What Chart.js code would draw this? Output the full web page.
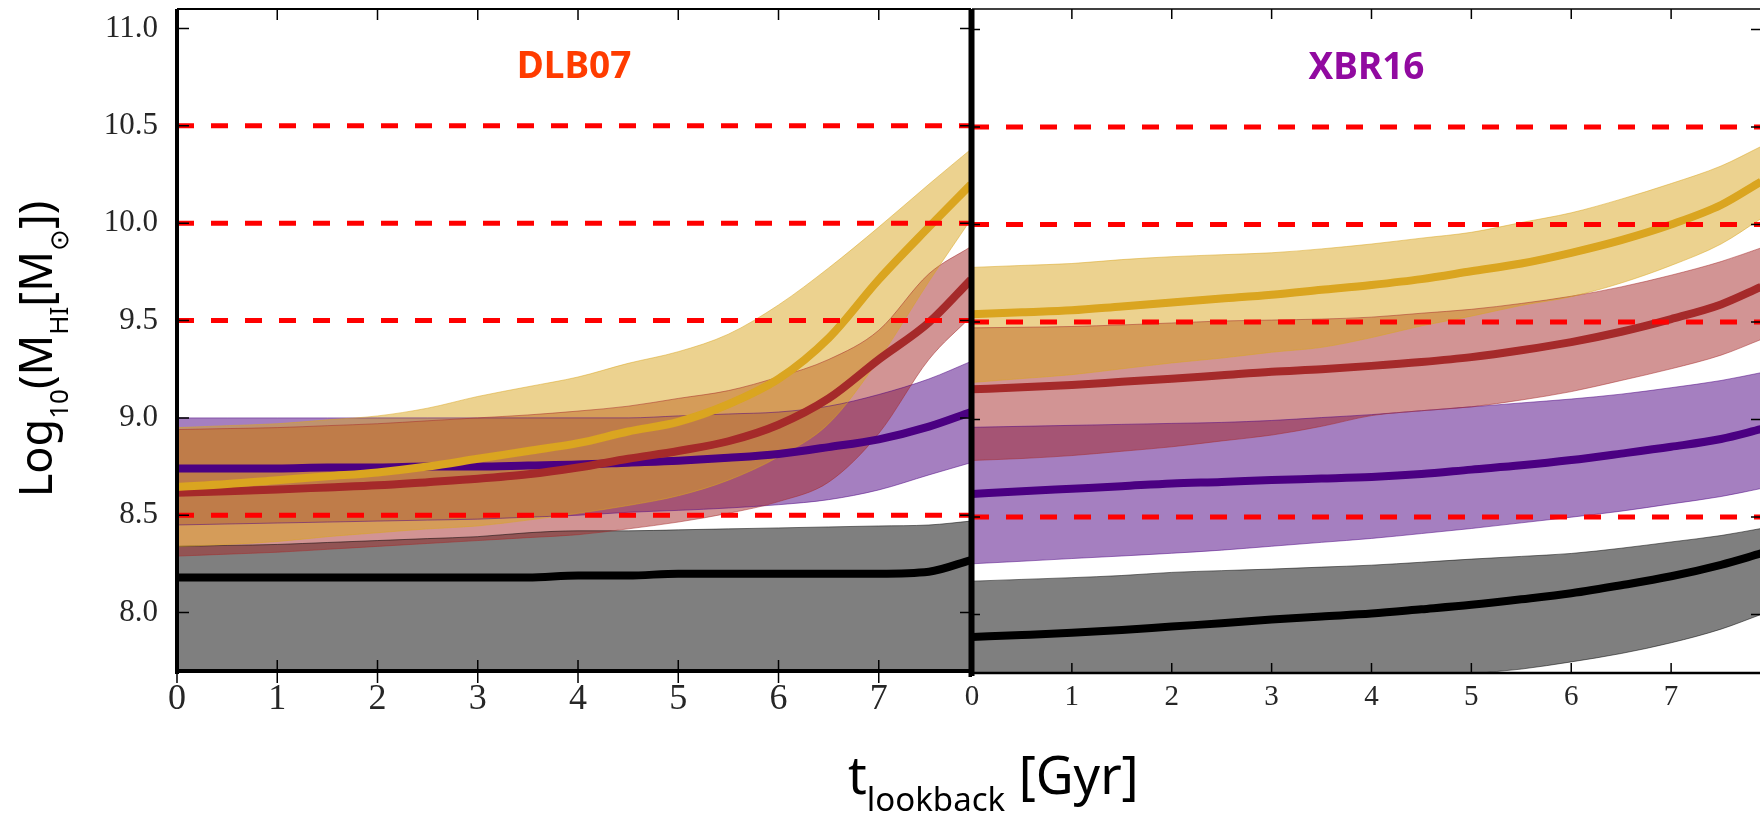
<!DOCTYPE html>
<html lang="en">
<head>
  <meta charset="UTF-8" />
  <title>HI mass vs lookback time</title>
  <script src="https://cdn.jsdelivr.net/npm/chart.js"></script>
  <style>
    html, body { margin: 0; padding: 0; background: #fff; overflow: hidden; }
    body { width: 1760px; height: 814px; position: relative; font-family: 'Noto Sans', sans-serif; }
    canvas { position: absolute; top: 0; }
    #left { left: 0; }
    #right { left: 960px; }
    .axis-title { position: absolute; color: #000; white-space: nowrap; }
    #ytitle { left: -175px; top: 319px; width: 420px; height: 60px; line-height: 60px; font-size: 45px; text-align: center; transform: rotate(-90deg); }
    #ytitle sub { font-size: 26px; vertical-align: -16px; line-height: 0; }
    #xtitle { left: 848px; top: 744px; height: 60px; line-height: 60px; font-size: 52px; }
    #xtitle sub { font-size: 33px; vertical-align: -17px; line-height: 0; }
  </style>
</head>
<body>

  <canvas id="left" width="972" height="814"></canvas>
  <canvas id="right" width="802" height="814"></canvas>
  <div id="ytitle" class="axis-title">Log<sub>10</sub>(M<sub>HI</sub>[M<sub>⊙</sub>])</div>
  <div id="xtitle" class="axis-title">t<sub>lookback</sub> [Gyr]</div>

  <script>
    // lookback time grid [Gyr]
    const tLeft  = [0, 0.5, 1, 1.5, 2, 2.5, 3, 3.5, 4, 4.5, 5, 5.5, 6, 6.5, 7, 7.5, 7.92];
    const tRight = [0, 0.5, 1, 1.5, 2, 2.5, 3, 3.5, 4, 4.5, 5, 5.5, 6, 6.5, 7, 7.5, 7.9];

    // reference HI mass levels (dashed)
    const thresholds = [10.5, 10.0, 9.5, 8.5];

    // DLB07: median and 16-84 percentile envelope per bin
    const dlbBlack    = [8.18, 8.18, 8.18, 8.18, 8.18, 8.18, 8.18, 8.18, 8.19, 8.19, 8.20, 8.20, 8.20, 8.20, 8.20, 8.21, 8.27];
    const dlbBlackHi  = [8.34, 8.345, 8.35, 8.36, 8.37, 8.38, 8.39, 8.41, 8.42, 8.42, 8.425, 8.43, 8.435, 8.44, 8.445, 8.45, 8.47];
    const dlbBlackLo  = [7.55, 7.55, 7.55, 7.55, 7.55, 7.55, 7.55, 7.55, 7.55, 7.55, 7.55, 7.55, 7.55, 7.55, 7.55, 7.55, 7.55];
    const dlbPurple   = [8.74, 8.74, 8.74, 8.745, 8.745, 8.75, 8.75, 8.755, 8.76, 8.77, 8.78, 8.795, 8.815, 8.85, 8.89, 8.955, 9.03];
    const dlbPurpleHi = [9.0, 9.0, 9.0, 9.0, 9.0, 9.0, 9.0, 9.0, 9.0, 9.0, 9.01, 9.02, 9.03, 9.06, 9.12, 9.20, 9.29];
    const dlbPurpleLo = [8.45, 8.455, 8.46, 8.465, 8.47, 8.475, 8.48, 8.49, 8.50, 8.515, 8.525, 8.537, 8.554, 8.58, 8.63, 8.707, 8.77];
    const dlbRed      = [8.615, 8.623, 8.632, 8.643, 8.654, 8.67, 8.687, 8.71, 8.745, 8.79, 8.83, 8.88, 8.965, 9.10, 9.30, 9.49, 9.71];
    const dlbRedHi    = [8.94, 8.945, 8.95, 8.96, 8.97, 8.985, 9.0, 9.015, 9.035, 9.06, 9.10, 9.14, 9.21, 9.30, 9.45, 9.74, 9.88];
    const dlbRedLo    = [8.29, 8.30, 8.31, 8.325, 8.34, 8.355, 8.37, 8.385, 8.40, 8.43, 8.465, 8.51, 8.57, 8.67, 8.92, 9.30, 9.52];
    const dlbGold     = [8.645, 8.66, 8.68, 8.70, 8.72, 8.75, 8.79, 8.83, 8.87, 8.93, 8.98, 9.07, 9.20, 9.41, 9.71, 9.98, 10.20];
    const dlbGoldHi   = [8.95, 8.96, 8.97, 8.99, 9.01, 9.05, 9.11, 9.16, 9.21, 9.28, 9.34, 9.43, 9.58, 9.77, 9.98, 10.20, 10.38];
    const dlbGoldLo   = [8.34, 8.35, 8.365, 8.39, 8.41, 8.43, 8.445, 8.475, 8.51, 8.55, 8.60, 8.68, 8.80, 8.97, 9.30, 9.70, 10.02];

    // XBR16
    const xbrBlack    = [7.885, 7.895, 7.906, 7.92, 7.938, 7.955, 7.974, 7.99, 8.005, 8.027, 8.05, 8.078, 8.109, 8.15, 8.196, 8.255, 8.313];
    const xbrBlackHi  = [8.171, 8.18, 8.189, 8.20, 8.216, 8.225, 8.233, 8.243, 8.253, 8.268, 8.284, 8.298, 8.313, 8.34, 8.372, 8.405, 8.441];
    const xbrBlackLo  = [7.45, 7.47, 7.49, 7.51, 7.53, 7.55, 7.57, 7.60, 7.63, 7.66, 7.695, 7.72, 7.757, 7.80, 7.855, 7.925, 8.0];
    const xbrPurple   = [8.618, 8.632, 8.645, 8.658, 8.672, 8.68, 8.69, 8.697, 8.705, 8.72, 8.743, 8.765, 8.792, 8.825, 8.86, 8.90, 8.95];
    const xbrPurpleHi = [8.96, 8.965, 8.97, 8.975, 8.98, 8.985, 8.995, 9.01, 9.025, 9.045, 9.065, 9.085, 9.105, 9.13, 9.163, 9.20, 9.24];
    const xbrPurpleLo = [8.26, 8.273, 8.287, 8.30, 8.314, 8.33, 8.35, 8.37, 8.39, 8.415, 8.441, 8.47, 8.499, 8.53, 8.567, 8.605, 8.646];
    const xbrRed      = [9.155, 9.165, 9.177, 9.193, 9.209, 9.227, 9.245, 9.258, 9.275, 9.295, 9.32, 9.355, 9.397, 9.45, 9.515, 9.59, 9.68];
    const xbrRedHi    = [9.47, 9.473, 9.477, 9.485, 9.495, 9.505, 9.51, 9.515, 9.525, 9.545, 9.565, 9.595, 9.632, 9.68, 9.74, 9.81, 9.88];
    const xbrRedLo    = [8.79, 8.80, 8.815, 8.837, 8.86, 8.89, 8.92, 8.965, 9.02, 9.045, 9.065, 9.10, 9.143, 9.20, 9.26, 9.33, 9.41];
    const xbrGold     = [9.54, 9.55, 9.56, 9.58, 9.60, 9.62, 9.64, 9.665, 9.69, 9.72, 9.76, 9.80, 9.855, 9.92, 10.00, 10.10, 10.22];
    const xbrGoldHi   = [9.78, 9.79, 9.80, 9.82, 9.835, 9.845, 9.855, 9.875, 9.90, 9.93, 9.96, 10.01, 10.06, 10.13, 10.21, 10.30, 10.40];
    const xbrGoldLo   = [9.19, 9.21, 9.23, 9.26, 9.29, 9.315, 9.345, 9.37, 9.42, 9.48, 9.53, 9.585, 9.63, 9.70, 9.79, 9.90, 10.03];

    const GOLD   = { line: '#daa520', band: 'rgba(218,165,32,0.5)' };
    const RED    = { line: '#a52a2a', band: 'rgba(165,42,42,0.5)' };
    const PURPLE = { line: '#4b0082', band: 'rgba(75,0,130,0.5)' };
    const BLACK  = { line: '#000000', band: 'rgba(0,0,0,0.5)' };

    // first entry ends up on top
    const dlbGroups = [
      { mid: dlbGold, hi: dlbGoldHi, lo: dlbGoldLo, ...GOLD },
      { mid: dlbRed, hi: dlbRedHi, lo: dlbRedLo, ...RED },
      { mid: dlbPurple, hi: dlbPurpleHi, lo: dlbPurpleLo, ...PURPLE },
      { mid: dlbBlack, hi: dlbBlackHi, lo: dlbBlackLo, ...BLACK }
    ];
    const xbrGroups = [
      { mid: xbrGold, hi: xbrGoldHi, lo: xbrGoldLo, ...GOLD },
      { mid: xbrRed, hi: xbrRedHi, lo: xbrRedLo, ...RED },
      { mid: xbrPurple, hi: xbrPurpleHi, lo: xbrPurpleLo, ...PURPLE },
      { mid: xbrBlack, hi: xbrBlackHi, lo: xbrBlackLo, ...BLACK }
    ];

    function pts(xs, ys) {
      return xs.map((x, i) => ({ x: x, y: ys[i] }));
    }

    function buildSets(xs, groups) {
      const xmax = xs[xs.length - 1];
      const sets = [];
      thresholds.forEach(v => sets.push({
        data: [{ x: 0, y: v }, { x: xmax, y: v }],
        borderColor: '#ff0000', borderWidth: 5, borderDash: [17, 17], fill: false
      }));
      groups.forEach(g => sets.push({
        data: pts(xs, g.mid), borderColor: g.line, borderWidth: 8, fill: false
      }));
      groups.forEach(g => {
        sets.push({ data: pts(xs, g.hi), borderColor: g.band, backgroundColor: g.band, borderWidth: 1, fill: '+1' });
        sets.push({ data: pts(xs, g.lo), borderColor: g.band, borderWidth: 1, fill: false });
      });
      return sets;
    }

    // spines plus inward-pointing tick marks
    const frame = {
      id: 'frame',
      afterDraw(chart, args, o) {
        const { ctx, chartArea: a } = chart;
        const x = chart.scales.x, y = chart.scales.y;
        ctx.save();
        ctx.strokeStyle = '#000';
        ctx.lineWidth = 1.5;
        ctx.beginPath();
        y.ticks.forEach(t => {
          const py = y.getPixelForValue(t.value);
          if (o.inLeft) { ctx.moveTo(a.left, py); ctx.lineTo(a.left + o.inLeft, py); }
          if (o.inRight) { ctx.moveTo(a.right, py); ctx.lineTo(a.right - o.inRight, py); }
        });
        x.ticks.forEach(t => {
          const px = x.getPixelForValue(t.value);
          ctx.moveTo(px, a.bottom + (o.outBottom || 0));
          ctx.lineTo(px, a.bottom - o.inX);
          ctx.moveTo(px, a.top + o.topShift);
          ctx.lineTo(px, a.top + o.topShift + o.inX);
        });
        ctx.stroke();

        const s = o.spines;
        const seg = (w, x1, y1, x2, y2) => {
          if (!w) return;
          ctx.lineWidth = w;
          ctx.beginPath();
          ctx.moveTo(x1, y1);
          ctx.lineTo(x2, y2);
          ctx.stroke();
        };
        seg(s.top, a.left, a.top + o.topShift, a.right, a.top + o.topShift);
        seg(s.bottom, a.left, a.bottom, a.right, a.bottom);
        seg(s.left, a.left, a.top + o.topShift, a.left, a.bottom + 3);
        seg(s.right, a.right, a.top + o.topShift, a.right, a.bottom + 6);
        ctx.restore();
      }
    };

    const panelTitle = {
      id: 'panelTitle',
      afterDraw(chart, args, o) {
        const { ctx, chartArea: a } = chart;
        ctx.save();
        ctx.font = 'bold 37px "Noto Sans"';
        ctx.fillStyle = o.color;
        ctx.textAlign = 'center';
        ctx.textBaseline = 'middle';
        ctx.fillText(o.text, (a.left + a.right) / 2, a.top + o.dy);
        ctx.restore();
      }
    };

    function makePanel(id, xs, groups, cfg) {
      return new Chart(document.getElementById(id), {
        type: 'line',
        data: { datasets: buildSets(xs, groups) },
        options: {
          responsive: false,
          animation: false,
          events: [],
          layout: { padding: cfg.padding },
          elements: {
            point: { radius: 0 },
            line: { cubicInterpolationMode: 'monotone', borderJoinStyle: 'round' }
          },
          plugins: {
            legend: { display: false },
            tooltip: { enabled: false },
            filler: { drawTime: 'beforeDatasetsDraw' },
            frame: cfg.frame,
            panelTitle: { text: cfg.title, color: cfg.titleColor, dy: cfg.titleDy }
          },
          scales: {
            x: {
              type: 'linear', min: 0, max: xs[xs.length - 1],
              grid: { display: false, drawTicks: false },
              border: { display: false },
              ticks: {
                stepSize: 1, includeBounds: false, autoSkip: false, maxRotation: 0,
                padding: cfg.xPad, color: '#262626',
                font: { family: 'Liberation Serif', size: cfg.xFont }
              },
              afterFit: s => { s.height = cfg.xHeight; s.paddingLeft = 0; s.paddingRight = 0; }
            },
            y: {
              min: 7.7, max: 11.1,
              grid: { display: false, drawTicks: false },
              border: { display: false },
              ticks: {
                display: cfg.yLabels, stepSize: 0.5, includeBounds: false,
                padding: 19, color: '#262626',
                font: { family: 'Liberation Serif', size: 31 },
                callback: v => v.toFixed(1)
              },
              afterFit: s => { s.width = cfg.yWidth; s.paddingTop = 0; s.paddingBottom = 0; }
            }
          }
        },
        plugins: [frame, panelTitle]
      });
    }

    makePanel('left', tLeft, dlbGroups, {
      padding: { top: 9, right: 1, left: 0, bottom: 0 },
      yWidth: 177, yLabels: true,
      xHeight: 143, xPad: 7, xFont: 36,
      title: 'DLB07', titleColor: '#ff3c00', titleDy: 58,
      frame: { spines: { left: 4, bottom: 4, top: 2, right: 5 }, inLeft: 12, inRight: 11, inX: 11, outBottom: 12, topShift: 0 }
    });

    makePanel('right', tRight, xbrGroups, {
      padding: { top: 10, right: 1, left: 12, bottom: 0 },
      yWidth: 0, yLabels: false,
      xHeight: 141, xPad: 7, xFont: 29,
      title: 'XBR16', titleColor: '#910aa0', titleDy: 58,
      frame: { spines: { left: 5, bottom: 2.5, top: 1.5, right: 1.5 }, inLeft: 8, inRight: 10, inX: 10, outBottom: 0, topShift: -1 }
    });
  </script>
</body>
</html>
